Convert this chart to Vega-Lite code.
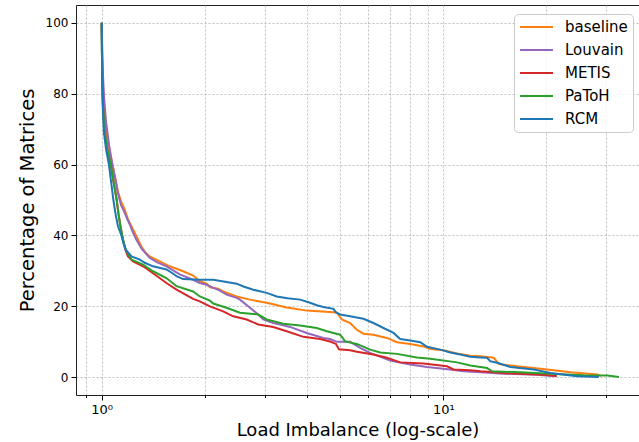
{
  "$schema": "https://vega.github.io/schema/vega-lite/v6.json",
  "width": 563,
  "height": 390,
  "autosize": {"type": "none"},
  "padding": {"left": 76, "top": 5, "right": 0, "bottom": 47},
  "background": "white",
  "config": {
    "view": {"stroke": "#222222", "strokeWidth": 1},
    "font": "DejaVu Sans"
  },
  "data": {
    "values": [
      {"s":"baseline","x":1.0,"y":100},{"s":"baseline","x":1.003,"y":92},{"s":"baseline","x":1.007,"y":84},{"s":"baseline","x":1.013,"y":78},{"s":"baseline","x":1.025,"y":72},{"s":"baseline","x":1.048,"y":65},{"s":"baseline","x":1.075,"y":60},{"s":"baseline","x":1.097,"y":56},{"s":"baseline","x":1.116,"y":52.4},{"s":"baseline","x":1.14,"y":49.5},{"s":"baseline","x":1.168,"y":47.3},{"s":"baseline","x":1.195,"y":44.5},{"s":"baseline","x":1.222,"y":42.6},{"s":"baseline","x":1.264,"y":39.8},{"s":"baseline","x":1.307,"y":36.9},{"s":"baseline","x":1.34,"y":35.3},{"s":"baseline","x":1.382,"y":34.1},{"s":"baseline","x":1.479,"y":32.7},{"s":"baseline","x":1.582,"y":31.3},{"s":"baseline","x":1.731,"y":29.9},{"s":"baseline","x":1.852,"y":28.7},{"s":"baseline","x":1.886,"y":28.1},{"s":"baseline","x":1.938,"y":27.1},{"s":"baseline","x":2.028,"y":26.4},{"s":"baseline","x":2.074,"y":25.4},{"s":"baseline","x":2.193,"y":25.0},{"s":"baseline","x":2.268,"y":24.2},{"s":"baseline","x":2.484,"y":22.8},{"s":"baseline","x":2.717,"y":21.9},{"s":"baseline","x":3.041,"y":21.0},{"s":"baseline","x":3.48,"y":19.7},{"s":"baseline","x":3.984,"y":18.8},{"s":"baseline","x":4.879,"y":18.3},{"s":"baseline","x":5.046,"y":16.3},{"s":"baseline","x":5.337,"y":15.3},{"s":"baseline","x":5.584,"y":13.4},{"s":"baseline","x":5.838,"y":12.3},{"s":"baseline","x":6.245,"y":12.0},{"s":"baseline","x":6.837,"y":11.1},{"s":"baseline","x":7.315,"y":9.9},{"s":"baseline","x":8.003,"y":9.4},{"s":"baseline","x":8.755,"y":8.7},{"s":"baseline","x":9.16,"y":8.0},{"s":"baseline","x":10.02,"y":7.6},{"s":"baseline","x":10.97,"y":6.7},{"s":"baseline","x":12.0,"y":6.1},{"s":"baseline","x":12.84,"y":5.9},{"s":"baseline","x":14.05,"y":5.5},{"s":"baseline","x":14.53,"y":3.8},{"s":"baseline","x":15.03,"y":3.5},{"s":"baseline","x":18.4,"y":2.6},{"s":"baseline","x":20.14,"y":2.2},{"s":"baseline","x":23.58,"y":1.4},{"s":"baseline","x":28.23,"y":0.8},{"s":"baseline","x":29.0,"y":0.3},

      {"s":"Louvain","x":1.0,"y":100},{"s":"Louvain","x":1.004,"y":92},{"s":"Louvain","x":1.009,"y":85},{"s":"Louvain","x":1.016,"y":79},{"s":"Louvain","x":1.03,"y":72},{"s":"Louvain","x":1.053,"y":65},{"s":"Louvain","x":1.075,"y":60},{"s":"Louvain","x":1.098,"y":55.5},{"s":"Louvain","x":1.115,"y":52},{"s":"Louvain","x":1.14,"y":48.5},{"s":"Louvain","x":1.16,"y":47},{"s":"Louvain","x":1.19,"y":44.5},{"s":"Louvain","x":1.21,"y":43},{"s":"Louvain","x":1.235,"y":40.8},{"s":"Louvain","x":1.264,"y":38.8},{"s":"Louvain","x":1.31,"y":36.2},{"s":"Louvain","x":1.382,"y":33.7},{"s":"Louvain","x":1.45,"y":32.5},{"s":"Louvain","x":1.547,"y":31.3},{"s":"Louvain","x":1.693,"y":29.0},{"s":"Louvain","x":1.852,"y":27.5},{"s":"Louvain","x":1.938,"y":26.6},{"s":"Louvain","x":2.028,"y":26.1},{"s":"Louvain","x":2.121,"y":25.2},{"s":"Louvain","x":2.193,"y":24.7},{"s":"Louvain","x":2.321,"y":23.3},{"s":"Louvain","x":2.484,"y":22.4},{"s":"Louvain","x":2.539,"y":21.9},{"s":"Louvain","x":2.717,"y":19.6},{"s":"Louvain","x":2.873,"y":17.7},{"s":"Louvain","x":2.972,"y":16.3},{"s":"Louvain","x":3.179,"y":15.3},{"s":"Louvain","x":3.33,"y":14.9},{"s":"Louvain","x":3.558,"y":14.2},{"s":"Louvain","x":3.984,"y":12.5},{"s":"Louvain","x":4.456,"y":11.1},{"s":"Louvain","x":4.663,"y":10.8},{"s":"Louvain","x":4.879,"y":10.0},{"s":"Louvain","x":5.337,"y":10.0},{"s":"Louvain","x":5.71,"y":8.3},{"s":"Louvain","x":6.106,"y":6.9},{"s":"Louvain","x":6.991,"y":4.7},{"s":"Louvain","x":8.003,"y":3.6},{"s":"Louvain","x":8.957,"y":2.9},{"s":"Louvain","x":10.48,"y":2.2},{"s":"Louvain","x":11.47,"y":1.7},{"s":"Louvain","x":12.84,"y":1.4},{"s":"Louvain","x":15.03,"y":1.0},{"s":"Louvain","x":18.83,"y":0.7},{"s":"Louvain","x":21.06,"y":0.3},

      {"s":"METIS","x":1.0,"y":100},{"s":"METIS","x":1.0015,"y":92},{"s":"METIS","x":1.004,"y":84},{"s":"METIS","x":1.008,"y":77},{"s":"METIS","x":1.019,"y":70},{"s":"METIS","x":1.037,"y":64.5},{"s":"METIS","x":1.062,"y":60},{"s":"METIS","x":1.086,"y":54.5},{"s":"METIS","x":1.106,"y":50.1},{"s":"METIS","x":1.12,"y":46},{"s":"METIS","x":1.135,"y":42.6},{"s":"METIS","x":1.148,"y":40},{"s":"METIS","x":1.16,"y":37.9},{"s":"METIS","x":1.175,"y":35.8},{"s":"METIS","x":1.194,"y":34.1},{"s":"METIS","x":1.235,"y":32.7},{"s":"METIS","x":1.322,"y":31.3},{"s":"METIS","x":1.43,"y":29.0},{"s":"METIS","x":1.547,"y":26.6},{"s":"METIS","x":1.656,"y":24.7},{"s":"METIS","x":1.852,"y":22.1},{"s":"METIS","x":1.938,"y":21.4},{"s":"METIS","x":2.074,"y":20.0},{"s":"METIS","x":2.268,"y":18.6},{"s":"METIS","x":2.427,"y":17.2},{"s":"METIS","x":2.657,"y":16.3},{"s":"METIS","x":2.873,"y":14.9},{"s":"METIS","x":3.179,"y":14.2},{"s":"METIS","x":3.48,"y":13.0},{"s":"METIS","x":3.894,"y":11.4},{"s":"METIS","x":4.358,"y":10.8},{"s":"METIS","x":4.663,"y":10.1},{"s":"METIS","x":4.85,"y":9.4},{"s":"METIS","x":4.95,"y":7.9},{"s":"METIS","x":5.337,"y":7.6},{"s":"METIS","x":5.584,"y":7.2},{"s":"METIS","x":6.245,"y":6.4},{"s":"METIS","x":6.837,"y":5.5},{"s":"METIS","x":7.48,"y":4.2},{"s":"METIS","x":8.755,"y":3.9},{"s":"METIS","x":10.25,"y":3.1},{"s":"METIS","x":10.72,"y":2.2},{"s":"METIS","x":12.0,"y":2.0},{"s":"METIS","x":12.84,"y":1.7},{"s":"METIS","x":15.03,"y":1.2},{"s":"METIS","x":18.83,"y":0.8},{"s":"METIS","x":20.6,"y":0.6},{"s":"METIS","x":21.5,"y":0.3},

      {"s":"PaToH","x":1.0,"y":100},{"s":"PaToH","x":1.0015,"y":92},{"s":"PaToH","x":1.004,"y":84},{"s":"PaToH","x":1.008,"y":77},{"s":"PaToH","x":1.019,"y":70},{"s":"PaToH","x":1.037,"y":64.5},{"s":"PaToH","x":1.062,"y":60},{"s":"PaToH","x":1.086,"y":54.5},{"s":"PaToH","x":1.106,"y":50.1},{"s":"PaToH","x":1.12,"y":46},{"s":"PaToH","x":1.135,"y":42.6},{"s":"PaToH","x":1.155,"y":38.8},{"s":"PaToH","x":1.176,"y":36.0},{"s":"PaToH","x":1.222,"y":33.2},{"s":"PaToH","x":1.322,"y":31.8},{"s":"PaToH","x":1.413,"y":29.9},{"s":"PaToH","x":1.547,"y":28.0},{"s":"PaToH","x":1.656,"y":25.7},{"s":"PaToH","x":1.852,"y":24.2},{"s":"PaToH","x":1.938,"y":22.8},{"s":"PaToH","x":2.074,"y":21.6},{"s":"PaToH","x":2.121,"y":20.8},{"s":"PaToH","x":2.321,"y":19.6},{"s":"PaToH","x":2.539,"y":18.2},{"s":"PaToH","x":2.873,"y":17.7},{"s":"PaToH","x":3.041,"y":16.3},{"s":"PaToH","x":3.401,"y":15.1},{"s":"PaToH","x":3.808,"y":14.6},{"s":"PaToH","x":4.262,"y":13.9},{"s":"PaToH","x":4.56,"y":13.0},{"s":"PaToH","x":4.989,"y":12.0},{"s":"PaToH","x":5.16,"y":10.1},{"s":"PaToH","x":5.584,"y":9.4},{"s":"PaToH","x":6.106,"y":7.8},{"s":"PaToH","x":6.534,"y":7.0},{"s":"PaToH","x":7.315,"y":6.6},{"s":"PaToH","x":8.373,"y":5.6},{"s":"PaToH","x":9.16,"y":5.2},{"s":"PaToH","x":10.97,"y":4.2},{"s":"PaToH","x":12.0,"y":3.3},{"s":"PaToH","x":12.84,"y":2.9},{"s":"PaToH","x":13.43,"y":2.6},{"s":"PaToH","x":13.9,"y":1.7},{"s":"PaToH","x":16.82,"y":1.4},{"s":"PaToH","x":20.6,"y":1.0},{"s":"PaToH","x":25.79,"y":0.6},{"s":"PaToH","x":30.2,"y":0.5},{"s":"PaToH","x":32.66,"y":0.1},

      {"s":"RCM","x":1.0,"y":100},{"s":"RCM","x":1.0015,"y":92},{"s":"RCM","x":1.004,"y":82},{"s":"RCM","x":1.008,"y":75},{"s":"RCM","x":1.015,"y":69},{"s":"RCM","x":1.031,"y":64},{"s":"RCM","x":1.05,"y":60},{"s":"RCM","x":1.066,"y":55},{"s":"RCM","x":1.082,"y":50},{"s":"RCM","x":1.098,"y":46},{"s":"RCM","x":1.116,"y":42.6},{"s":"RCM","x":1.142,"y":40},{"s":"RCM","x":1.16,"y":37.5},{"s":"RCM","x":1.176,"y":36},{"s":"RCM","x":1.2,"y":35},{"s":"RCM","x":1.222,"y":34.1},{"s":"RCM","x":1.293,"y":33.2},{"s":"RCM","x":1.337,"y":32.3},{"s":"RCM","x":1.413,"y":31.3},{"s":"RCM","x":1.547,"y":30.4},{"s":"RCM","x":1.62,"y":29.2},{"s":"RCM","x":1.656,"y":28.5},{"s":"RCM","x":1.731,"y":27.7},{"s":"RCM","x":1.938,"y":27.5},{"s":"RCM","x":2.121,"y":27.5},{"s":"RCM","x":2.321,"y":26.9},{"s":"RCM","x":2.484,"y":26.4},{"s":"RCM","x":2.6,"y":25.6},{"s":"RCM","x":2.778,"y":24.7},{"s":"RCM","x":3.041,"y":23.8},{"s":"RCM","x":3.253,"y":22.8},{"s":"RCM","x":3.5,"y":22.3},{"s":"RCM","x":3.808,"y":21.9},{"s":"RCM","x":4.074,"y":21.0},{"s":"RCM","x":4.26,"y":20.3},{"s":"RCM","x":4.456,"y":19.8},{"s":"RCM","x":4.768,"y":19.3},{"s":"RCM","x":4.85,"y":18.3},{"s":"RCM","x":4.99,"y":17.7},{"s":"RCM","x":5.337,"y":17.2},{"s":"RCM","x":5.838,"y":16.5},{"s":"RCM","x":6.245,"y":15.3},{"s":"RCM","x":6.681,"y":13.9},{"s":"RCM","x":7.149,"y":12.5},{"s":"RCM","x":7.48,"y":10.8},{"s":"RCM","x":8.003,"y":10.4},{"s":"RCM","x":8.562,"y":9.9},{"s":"RCM","x":8.957,"y":8.6},{"s":"RCM","x":9.799,"y":7.8},{"s":"RCM","x":10.48,"y":7.0},{"s":"RCM","x":11.21,"y":6.4},{"s":"RCM","x":12.0,"y":5.8},{"s":"RCM","x":12.84,"y":5.6},{"s":"RCM","x":13.43,"y":5.5},{"s":"RCM","x":13.74,"y":4.5},{"s":"RCM","x":14.38,"y":4.1},{"s":"RCM","x":15.73,"y":2.9},{"s":"RCM","x":18.4,"y":2.2},{"s":"RCM","x":20.6,"y":1.2},{"s":"RCM","x":24.67,"y":0.3},{"s":"RCM","x":28.53,"y":0.1}
    ]
  },
  "mark": {"type": "line", "strokeWidth": 2, "clip": true},
  "encoding": {
    "x": {
      "field": "x",
      "type": "quantitative",
      "scale": {"type": "log", "domain": [0.841, 37.4], "nice": false},
      "axis": {
        "title": "Load Imbalance (log-scale)",
        "titleFont": "DejaVu Sans",
        "titleFontSize": 18,
        "titleFontWeight": "normal",
        "titleColor": "black",
        "titlePadding": 5,
        "values": [0.9, 1, 2, 3, 4, 5, 6, 7, 8, 9, 10, 20, 30],
        "labelExpr": "datum.value == 1 ? '10⁰' : (datum.value == 10 ? '10¹' : '')",
        "labelFont": "DejaVu Sans",
        "labelFontSize": 13,
        "labelColor": "black",
        "labelPadding": 3,
        "labelOverlap": false,
        "labelFlush": false,
        "tickColor": "black",
        "tickSize": {"condition": {"test": "datum.value == 1 || datum.value == 10", "value": 5}, "value": 2.5},
        "domain": false,
        "grid": true,
        "gridDash": [2, 2],
        "gridColor": "#b0b0b0",
        "gridWidth": 0.8
      }
    },
    "y": {
      "field": "y",
      "type": "quantitative",
      "scale": {"domain": [-5, 105], "nice": false, "zero": false},
      "axis": {
        "title": "Percentage of Matrices",
        "titleFont": "DejaVu Sans",
        "titleFontSize": 19.5,
        "titleFontWeight": "normal",
        "titleColor": "black",
        "titlePadding": 8,
        "values": [0, 20, 40, 60, 80, 100],
        "labelFont": "DejaVu Sans",
        "labelFontSize": 12,
        "labelColor": "black",
        "labelPadding": 3,
        "tickColor": "black",
        "tickSize": 5,
        "domain": false,
        "grid": true,
        "gridDash": [2, 2],
        "gridColor": "#b0b0b0",
        "gridWidth": 0.8
      }
    },
    "color": {
      "field": "s",
      "type": "nominal",
      "scale": {
        "domain": ["baseline", "Louvain", "METIS", "PaToH", "RCM"],
        "range": ["#ff7f0e", "#9467bd", "#d62728", "#2ca02c", "#1f77b4"]
      },
      "legend": {
        "title": null,
        "orient": "none",
        "legendX": 438,
        "legendY": 9,
        "symbolType": "stroke",
        "symbolSize": 1089,
        "symbolStrokeWidth": 2,
        "clipHeight": 16,
        "rowPadding": 7,
        "labelFont": "DejaVu Sans",
        "labelFontSize": 15,
        "labelColor": "black",
        "labelOffset": 11,
        "padding": 5,
        "strokeColor": "#cccccc",
        "fillColor": "rgba(255,255,255,0.8)",
        "cornerRadius": 4
      }
    }
  }
}
